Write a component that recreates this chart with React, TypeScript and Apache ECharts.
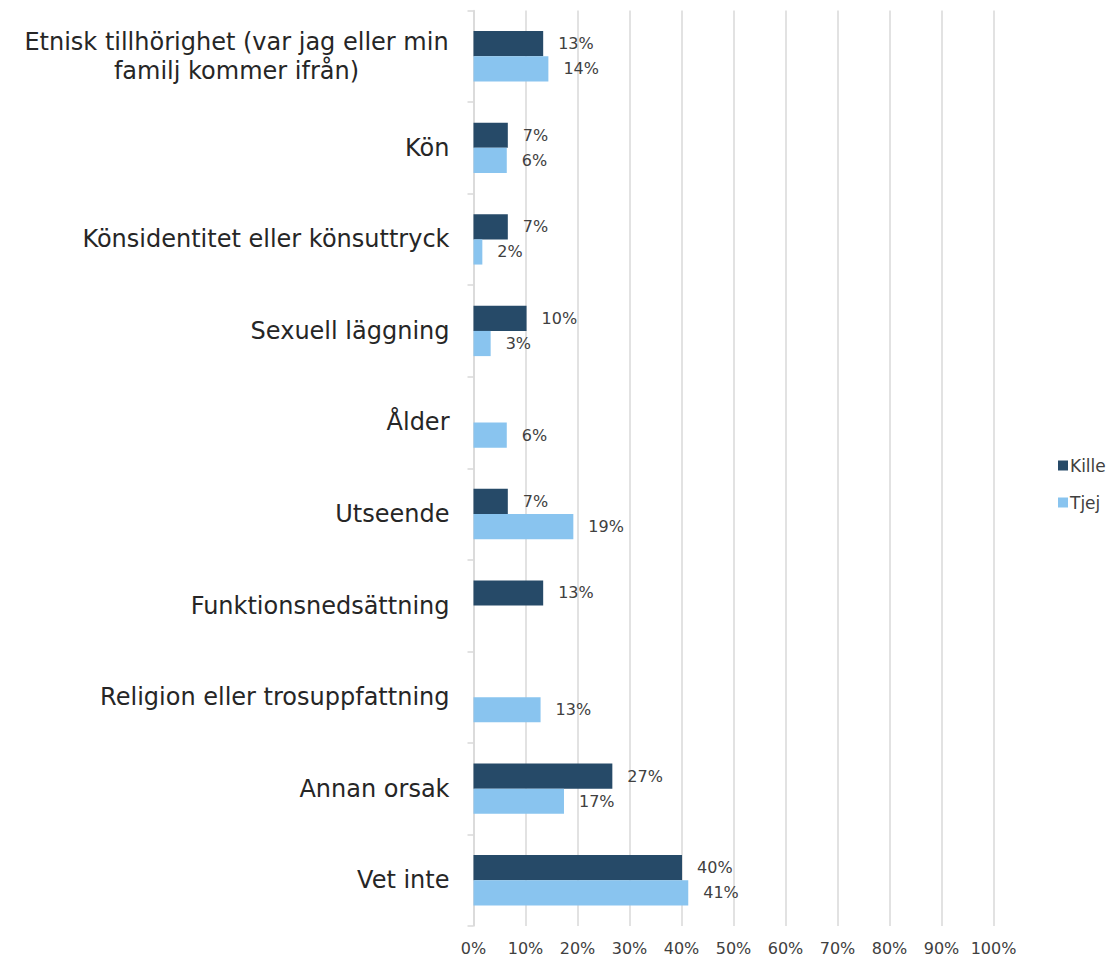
import React, { useEffect, useRef } from "react";
import * as echarts from "echarts";

const categories = [
  "Etnisk tillhörighet (var jag eller min\nfamilj kommer ifrån)",
  "Kön",
  "Könsidentitet eller könsuttryck",
  "Sexuell läggning",
  "Ålder",
  "Utseende",
  "Funktionsnedsättning",
  "Religion eller trosuppfattning",
  "Annan orsak",
  "Vet inte",
];
const kille: (number | null)[] = [13.4, 6.6, 6.6, 10.2, null, 6.6, 13.4, null, 26.7, 40.1];
const tjej: (number | null)[] = [14.4, 6.4, 1.7, 3.3, 6.4, 19.2, null, 12.9, 17.4, 41.3];
const seriesNames = ["Kille", "Tjej"];
const colors = ["#264a68", "#89c4ef"];
const FONT = "DejaVu Sans";

export default function App() {
  const ref = useRef<HTMLDivElement>(null);
  useEffect(() => {
    if (!ref.current) return;
    const chart = echarts.init(ref.current, null, { renderer: "svg" });
    const label = {
      show: true,
      position: "right",
      distance: 15,
      color: "#404040",
      fontSize: 16,
      fontFamily: FONT,
      formatter: (p: any) => (p.value == null ? "" : Math.round(p.value) + "%"),
    };
    chart.setOption({
      animation: false,
      textStyle: { fontFamily: FONT },
      grid: { left: 473.5, right: 118.5, top: 10.5, bottom: 35, containLabel: false },
      legend: {
        orient: "vertical",
        left: 1053,
        top: 452,
        itemWidth: 10,
        itemHeight: 10,
        itemGap: 20,
        icon: "rect",
        textStyle: { fontSize: 17, color: "#404040", fontFamily: FONT, padding: [0, 0, 0, -3] },
        data: seriesNames,
      },
      xAxis: {
        type: "value",
        min: 0,
        max: 100,
        interval: 10,
        axisLine: { show: false },
        axisTick: { show: false },
        splitLine: { lineStyle: { color: "#d9d9d9", width: 1.5 } },
        axisLabel: {
          formatter: "{value}%",
          fontSize: 16,
          color: "#404040",
          margin: 14,
          fontFamily: FONT,
        },
      },
      yAxis: {
        type: "category",
        inverse: true,
        data: categories,
        axisLine: { show: true, lineStyle: { color: "#d9d9d9", width: 1.5 } },
        axisTick: { show: true, length: 6, lineStyle: { color: "#d9d9d9", width: 1.5 } },
        axisLabel: {
          margin: 24,
          fontSize: 24,
          color: "#262626",
          fontFamily: FONT,
          lineHeight: 29,
          formatter: (v: string) => (v.indexOf("\n") >= 0 ? "{c|" + v.split("\n").join("}\n{c|") + "}" : v),
          rich: {
            c: { width: 426, align: "center", fontSize: 24, lineHeight: 29, color: "#262626", fontFamily: FONT },
          },
        },
      },
      series: [
        {
          name: seriesNames[0],
          type: "bar",
          data: kille,
          itemStyle: { color: colors[0] },
          barGap: "0%",
          barCategoryGap: "45%",
          label,
        },
        {
          name: seriesNames[1],
          type: "bar",
          data: tjej,
          itemStyle: { color: colors[1] },
          barGap: "0%",
          barCategoryGap: "45%",
          label,
        },
      ],
    });
    return () => chart.dispose();
  }, []);
  return <div ref={ref} style={{ position: "fixed", left: 0, top: 0, width: 1112, height: 961, background: "#fff" }} />;
}
